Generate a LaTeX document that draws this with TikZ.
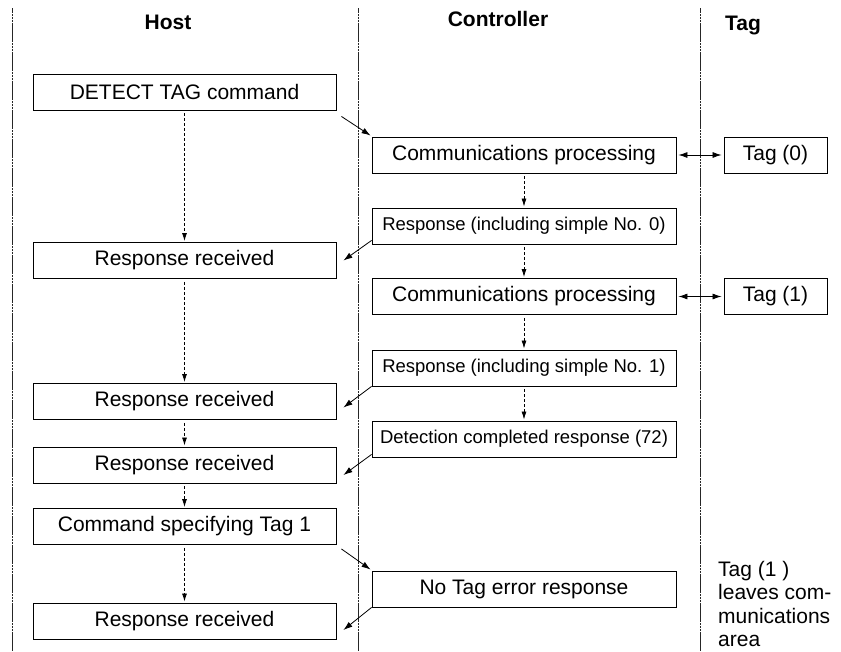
\documentclass[tikz,border=0pt]{standalone}
\usepackage{fontspec}
\setmainfont{Liberation Sans}
\usetikzlibrary{arrows.meta,calc}

\begin{document}
\begin{tikzpicture}[x=1pt, y=-1pt,
    lane/.style={line width=1pt, color=black!85, dash pattern=on 2.5pt off 0.4pt},
    hostbox/.style={draw, line width=0.9pt, minimum width=303pt, minimum height=36pt, inner sep=0pt, font=\fontsize{21}{22}\selectfont},
    ctrlbox/.style={draw, line width=0.9pt, minimum width=304pt, minimum height=36pt, inner sep=0pt, font=\fontsize{21}{22}\selectfont},
    replybox/.style={ctrlbox, font=\fontsize{18.5}{20}\selectfont},
    tagbox/.style={draw, line width=0.9pt, minimum width=103pt, minimum height=36pt, inner sep=0pt, font=\fontsize{21}{22}\selectfont},
    head/.style={font=\fontsize{21}{22}\selectfont\bfseries},
    flow/.style={-{Latex[length=8pt, width=5pt]}, line width=0.8pt, dash pattern=on 3pt off 2pt},
    msg/.style={-{Latex[length=9pt, width=6pt]}, line width=0.8pt},
    link/.style={{Latex[length=9pt, width=6pt]}-{Latex[length=9pt, width=6pt]}, line width=0.8pt}]
  \useasboundingbox (0,0) rectangle (841,651);
  % swim lanes
  \draw[lane] (12,8) -- (12,651);
  \draw[lane] (358,8) -- (358,651);
  \draw[lane] (700,8) -- (700,651);
  \node[head] (hhost) at (168,22) {Host};
  \node[head] (hctrl) at (498,19) {Controller};
  \node[head] (htag) at (743,25) {Tag};

  % host column
  \node[hostbox] (det) at (184.5,92) {DETECT TAG command};
  \node[hostbox] (rr1) at (184.5,260.5) {Response received};
  \node[hostbox] (rr2) at (184.5,401.5) {Response received};
  \node[hostbox] (rr3) at (184.5,465) {Response received};
  \node[hostbox] (cmd) at (184.5,526.5) {Command specifying Tag 1};
  \node[hostbox] (rr4) at (184.5,621) {Response received};

  % controller column
  \node[ctrlbox] (cp1) at (524,155) {Communications processing};
  \node[replybox] (r0) at (524,226) {Response (including simple No. 0)};
  \node[ctrlbox] (cp2) at (524,296.5) {Communications processing};
  \node[replybox] (r1) at (524,368) {Response (including simple No. 1)};
  \node[replybox] (dcr) at (524,439) {Detection completed response (72)};
  \node[ctrlbox] (notag) at (524,589) {No Tag error response};

  % tag column
  \node[tagbox] (tag0) at (775.5,155) {Tag (0)};
  \node[tagbox] (tag1) at (775.5,296.5) {Tag (1)};
  \node[anchor=north west, inner sep=0pt, align=left, font=\fontsize{21}{23.5}\selectfont] (leave) at (718,561) {Tag (1 )\\leaves com-\\munications\\area};

  % flow inside columns
  \draw[flow] ($(det.south)+(0,3)$) -- ($(rr1.north)+(0,-1)$);
  \draw[flow] ($(rr1.south)+(0,3)$) -- ($(rr2.north)+(0,-1)$);
  \draw[flow] ($(rr2.south)+(0,3)$) -- ($(rr3.north)+(0,-1)$);
  \draw[flow] ($(rr3.south)+(0,3)$) -- ($(cmd.north)+(0,-1)$);
  \draw[flow] ($(cmd.south)+(0,3)$) -- ($(rr4.north)+(0,-1)$);
  \draw[flow] ($(cp1.south)+(0,3)$) -- ($(r0.north)+(0,-1)$);
  \draw[flow] ($(r0.south)+(0,3)$) -- ($(cp2.north)+(0,-1)$);
  \draw[flow] ($(cp2.south)+(0,3)$) -- ($(r1.north)+(0,-1)$);
  \draw[flow] ($(r1.south)+(0,3)$) -- ($(dcr.north)+(0,-1)$);

  % messages between host and controller
  \draw[msg] ($(det.south east)+(5,6)$) -- ($(cp1.north west)+(-1,-1)$);
  \draw[msg] ($(r0.south west)+(0,-4)$) -- ($(rr1.east)+(7,0)$);
  \draw[msg] (r1.south west) -- ($(rr2.east)+(7,6)$);
  \draw[msg] ($(dcr.south west)+(0,-3)$) -- ($(rr3.east)+(7,10)$);
  \draw[msg] ($(cmd.south east)+(5,4)$) -- ($(notag.north west)+(-1,-1)$);
  \draw[msg] (notag.south west) -- ($(rr4.east)+(7,9)$);

  % controller <-> tag
  \draw[link] ($(cp1.east)+(2,0)$) -- ($(tag0.west)+(-2,0)$);
  \draw[link] ($(cp2.east)+(2,0)$) -- ($(tag1.west)+(-2,0)$);
\end{tikzpicture}
\end{document}
